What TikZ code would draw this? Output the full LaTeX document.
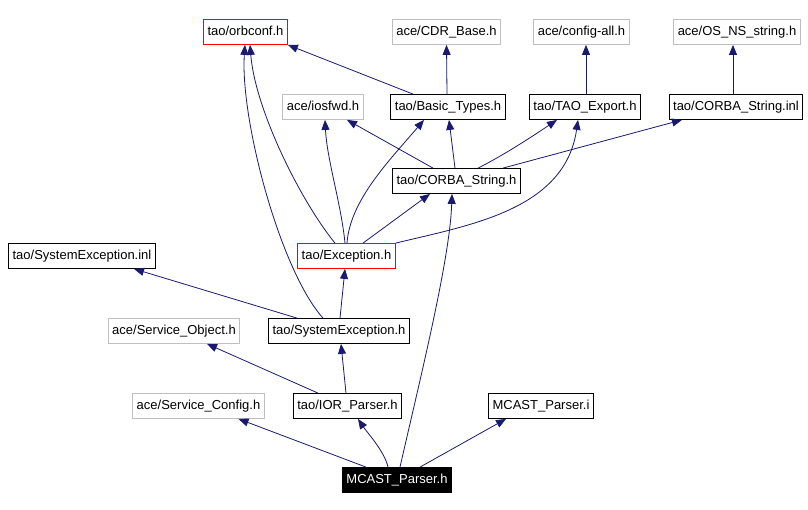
\documentclass[tikz,border=0pt]{standalone}
\usepackage{fontspec}
\setmainfont{Liberation Sans}
\usepackage{tikz}
\usetikzlibrary{arrows.meta}

\definecolor{edgeblue}{RGB}{25,25,112}
\definecolor{extgrey}{RGB}{191,191,191}

\tikzset{
  file/.style={draw=black, line width=0.8pt, fill=white, inner xsep=4pt, inner ysep=0pt,
    minimum height=25pt, text height=9.5pt, text depth=2.7pt, font=\fontsize{13}{15}\selectfont},
  extfile/.style={file, draw=extgrey},
  redfile/.style={file, draw=red},
  mainfile/.style={file, fill=black, text=white},
  inc/.style={draw=edgeblue, line width=0.8pt, -{Triangle[length=10pt,width=8pt]}}
}

\begin{document}
\begin{tikzpicture}[x=1pt, y=-1pt]
\useasboundingbox (0,0) rectangle (808,510);

\node[redfile] (orbconf) at (245.5, 32) {tao/orbconf.h};
\node[extfile] (cdr) at (446.5, 32) {ace/CDR\_Base.h};
\node[extfile] (cfgall) at (581.5, 32) {ace/config-all.h};
\node[extfile] (osstr) at (737, 32) {ace/OS\_NS\_string.h};
\node[extfile] (iosfwd) at (323, 107) {ace/iosfwd.h};
\node[file] (basic) at (448, 107) {tao/Basic\_Types.h};
\node[file] (taoexp) at (585, 107) {tao/TAO\_Export.h};
\node[file] (csinl) at (736, 107) {tao/CORBA\_String.inl};
\node[file] (csh) at (456.5, 181) {tao/CORBA\_String.h};
\node[redfile] (exc) at (346.5, 256) {tao/Exception.h};
\node[file] (sysinl) at (82, 256) {tao/SystemException.inl};
\node[extfile] (svcobj) at (174, 331) {ace/Service\_Object.h};
\node[file] (sysexc) at (339, 331) {tao/SystemException.h};
\node[extfile] (svccfg) at (198.5, 406) {ace/Service\_Config.h};
\node[file] (ior) at (347.5, 406) {tao/IOR\_Parser.h};
\node[file] (mcasti) at (541, 406) {MCAST\_Parser.i};
\node[mainfile] (mcasth) at (397, 480) {MCAST\_Parser.h};

% MCAST_Parser.h
\draw[inc] ([xshift=-31pt]mcasth.north) -- ([xshift=40pt]svccfg.south);
\draw[inc] ([xshift=-9pt]mcasth.north) .. controls +(-3,-15) and +(8,12) .. ([xshift=10.5pt]ior.south);
\draw[inc] ([xshift=3pt]mcasth.north) .. controls +(20,-88) and +(-2,65) .. ([xshift=-4.5pt]csh.south);
\draw[inc] ([xshift=23pt]mcasth.north) -- ([xshift=-35pt]mcasti.south);

% IOR_Parser.h
\draw[inc] ([xshift=-29.5pt]ior.north) -- ([xshift=33pt]svcobj.south);
\draw[inc] ([xshift=-1.5pt]ior.north) -- ([xshift=2pt]sysexc.south);

% SystemException.h
\draw[inc] ([xshift=-42pt]sysexc.north) -- ([xshift=52pt]sysinl.south);
\draw[inc] ([xshift=1pt]sysexc.north) -- ([xshift=-1.5pt]exc.south);
\draw[inc] ([xshift=-16pt]sysexc.north) .. controls +(-43,-48) and +(-5,74) .. ([xshift=-0.5pt]orbconf.south);

% Exception.h
\draw[inc] ([xshift=-11.5pt]exc.north) .. controls +(-35,-43) and +(5,64) .. ([xshift=4.5pt]orbconf.south);
\draw[inc] ([xshift=-1.5pt]exc.north) .. controls +(-4,-40) and +(2,40) .. ([xshift=2pt]iosfwd.south);
\draw[inc] ([xshift=0.5pt]exc.north) .. controls +(3,-43) and +(-34,40) .. ([xshift=-24pt]basic.south);
\draw[inc] ([xshift=16.5pt]exc.north) -- ([xshift=-26.5pt]csh.south);
\draw[inc] (exc.north east) .. controls +(74,-18) and +(-13,90) .. ([xshift=-7pt]taoexp.south);

% CORBA_String.h
\draw[inc] ([xshift=-23.5pt]csh.north) -- ([xshift=24pt]iosfwd.south);
\draw[inc] ([xshift=-1.5pt]csh.north) -- ([xshift=1pt]basic.south);
\draw[inc] ([xshift=21.5pt]csh.north) .. controls +(30,-15) and +(-12,8) .. ([xshift=-28pt]taoexp.south);
\draw[inc] ([xshift=46.5pt]csh.north) -- ([xshift=-54pt]csinl.south);

% upper row
\draw[inc] ([xshift=-35pt]basic.north) -- (orbconf.south east);
\draw[inc] ([xshift=-1pt]basic.north) -- (cdr.south);
\draw[inc] ([xshift=1pt]taoexp.north) -- ([xshift=4.5pt]cfgall.south);
\draw[inc] ([xshift=-3pt]csinl.north) -- ([xshift=-4pt]osstr.south);

\end{tikzpicture}
\end{document}
